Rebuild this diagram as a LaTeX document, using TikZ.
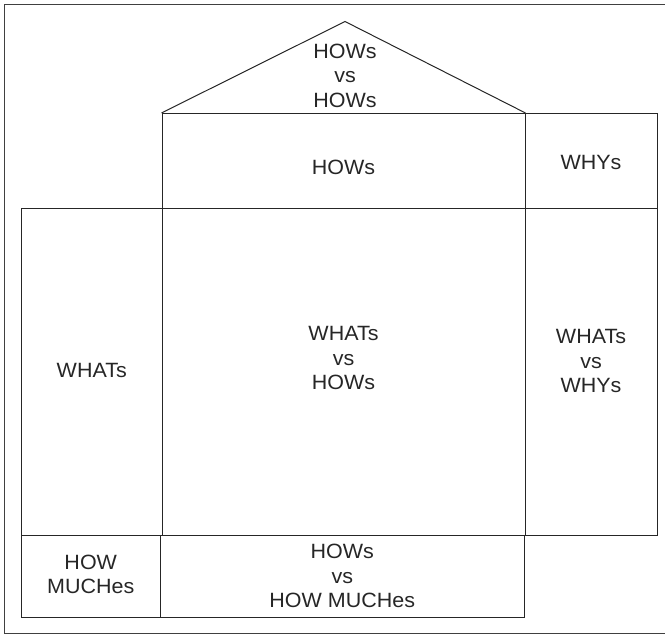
\documentclass[tikz,border=0pt]{standalone}
\usepackage{fontspec}
\setmainfont{Liberation Sans}[FakeStretch=1.04]
\usetikzlibrary{fit}
\begin{document}
\begin{tikzpicture}[x=0.75pt,y=-0.75pt,
  box/.style={draw=black!85, line width=0.75pt, inner sep=0pt},
  txt/.style={inner sep=0pt, align=center,
    font=\fontsize{15.5}{18.4}\selectfont, text=black!85},
  frame/.style={draw=black!75, line width=1.2pt},
  roofline/.style={draw=black!85, line width=0.75pt}]
\useasboundingbox (0,0) rectangle (665,635);
\draw[frame] (700,4.5) -- (4.5,4.5) -- (4.5,633.5) -- (700,633.5);
% top row
\node[box, fit={(162,113.5) (525,209)}] (hows) {};
\node[box, fit={(525,113.5) (657,209)}] (whys) {};
% roof
\coordinate (apex) at (345,21.5);
\draw[roofline] (hows.north west) -- (apex) -- (hows.north east);
% middle row
\node[box, fit={(21.5,209) (162,535)}] (whats) {};
\node[box, fit={(162,209) (525,535)}] (center) {};
\node[box, fit={(525,209) (657,535)}] (ww) {};
% bottom row
\node[box, fit={(21.5,535) (160,617.5)}] (howmuch) {};
\node[box, fit={(160,535) (524.5,617.5)}] (hhm) {};
% texts
\node[txt] (roof-t) at (345,75.5) {HOWs\\vs\\HOWs};
\node[txt] (hows-t) at ([yshift=-4.5pt]hows.center) {HOWs};
\node[txt] (whys-t) at ([yshift=-1pt]whys.center) {WHYs};
\node[txt] (whats-t) at ([yshift=1pt]whats.center) {WHATs};
\node[txt] (center-t) at ([yshift=10.5pt]center.center) {WHATs\\vs\\HOWs};
\node[txt] (ww-t) at ([yshift=8pt]ww.center) {WHATs\\vs\\WHYs};
\node[txt] (howmuch-t) at ([yshift=1.5pt]howmuch.center) {HOW\\MUCHes};
\node[txt] (hhm-t) at (hhm.center) {HOWs\\vs\\HOW MUCHes};
\end{tikzpicture}
\end{document}
